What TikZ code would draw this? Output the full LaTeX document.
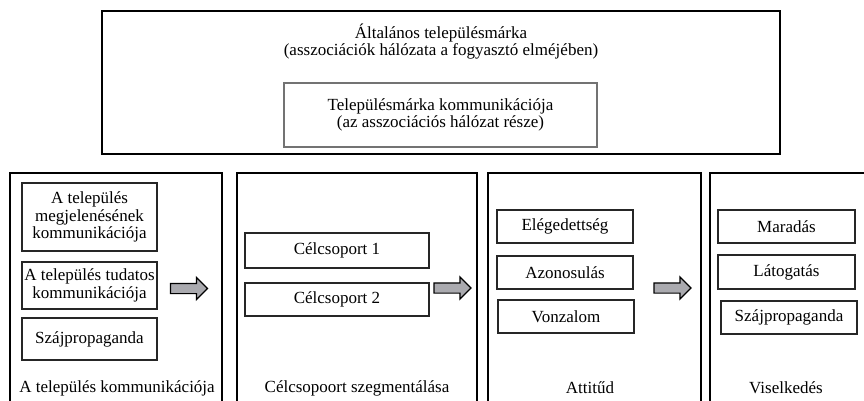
\documentclass[tikz,border=0pt]{standalone}
\usepackage{fontspec}
\setmainfont{Liberation Serif}
\usepackage{tikz}
\usetikzlibrary{shapes.arrows}
\pgfdeclarelayer{edgelayer}
\pgfdeclarelayer{nodelayer}
\pgfsetlayers{edgelayer,nodelayer,main}
\definecolor{arrowgray}{RGB}{170,170,175}
\tikzstyle{panel}=[rectangle,draw=black,line width=1.3,inner sep=0pt]
\tikzstyle{box}=[rectangle,draw=black!85,line width=1.1,inner sep=0pt,align=center]
\tikzstyle{label}=[inner sep=0pt,align=center]
\tikzstyle{blockarrow}=[single arrow,draw=black,fill=arrowgray,line width=1.2,inner xsep=0pt,inner ysep=4.5pt,single arrow head extend=6pt,minimum height=37pt]

\begin{document}
\begin{tikzpicture}[x=1pt,y=-1pt,font=\fontsize{17}{17.5}\selectfont]
	\useasboundingbox (0,0) rectangle (864,400);
	\begin{pgfonlayer}{edgelayer}
		\node [style=panel, minimum width=678, minimum height=143] (brand) at (441, 82.5) {};
		\node [style=panel, minimum width=212, minimum height=250] (panelA) at (116, 298) {};
		\node [style=panel, minimum width=240, minimum height=250] (panelB) at (357, 298) {};
		\node [style=panel, minimum width=213, minimum height=250] (panelC) at (594.5, 298) {};
		\node [style=panel, minimum width=190, minimum height=250] (panelD) at (805, 298) {};
	\end{pgfonlayer}
	\begin{pgfonlayer}{nodelayer}
		% top box
		\node [style=label] (brandtext) at (441, 41.5) {Általános településmárka\\(asszociációk hálózata a fogyasztó elméjében)};
		\node [style=box, draw=black!55, minimum width=313, minimum height=64] (comm) at (440.5, 115) {Településmárka kommunikációja\\(az asszociációs hálózat része)};
		% panel A
		\node [style=box, minimum width=135, minimum height=68] (look) at (89.5, 217) {A település\\megjelenésének\\kommunikációja};
		\node [style=box, minimum width=135, minimum height=47] (aware) at (89.5, 285.5) {A település tudatos\\kommunikációja};
		\node [style=box, minimum width=135, minimum height=42] (wordA) at (89.5, 339) {Szájpropaganda};
		\node [style=label] (labelA) at (117, 388) {A település kommunikációja};
		% panel B
		\node [style=box, minimum width=184, minimum height=35] (target1) at (337, 250.5) {Célcsoport 1};
		\node [style=box, minimum width=184, minimum height=33] (target2) at (337, 299.5) {Célcsoport 2};
		\node [style=label] (labelB) at (357, 388) {Célcsopoort szegmentálása};
		% panel C
		\node [style=box, minimum width=136, minimum height=33] (satis) at (565, 226.5) {Elégedettség};
		\node [style=box, minimum width=136, minimum height=33] (ident) at (565, 272.5) {Azonosulás};
		\node [style=box, minimum width=136, minimum height=33] (attract) at (566, 316.5) {Vonzalom};
		\node [style=label] (labelC) at (590, 388) {Attitűd};
		% panel D
		\node [style=box, minimum width=137, minimum height=33] (stay) at (786.5, 226.5) {Maradás};
		\node [style=box, minimum width=137, minimum height=34] (visit) at (786.5, 272) {Látogatás};
		\node [style=box, minimum width=136, minimum height=33] (wordD) at (789, 317.5) {Szájpropaganda};
		\node [style=label] (labelD) at (786, 388) {Viselkedés};
		% arrows
		\node [style=blockarrow] (arrAB) at (186.5, 288.5) {};
		\node [style=blockarrow] (arrBC) at (450, 288) {};
		\node [style=blockarrow] (arrCD) at (670, 288) {};
	\end{pgfonlayer}
\end{tikzpicture}
\end{document}
